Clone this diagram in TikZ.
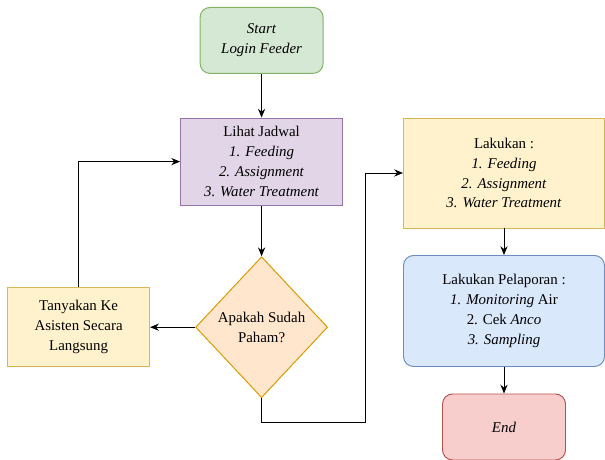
\documentclass[tikz,border=0pt]{standalone}
\usepackage{fontspec}
\setmainfont{Liberation Serif}
\usepackage{tikz}
\usetikzlibrary{positioning,shapes.geometric,arrows.meta}

\definecolor{greenfill}{RGB}{213,232,212}
\definecolor{greenline}{RGB}{130,179,102}
\definecolor{purplefill}{RGB}{225,213,231}
\definecolor{purpleline}{RGB}{150,115,166}
\definecolor{orangefill}{RGB}{255,230,204}
\definecolor{orangeline}{RGB}{215,155,0}
\definecolor{yellowfill}{RGB}{255,242,204}
\definecolor{yellowline}{RGB}{214,182,86}
\definecolor{bluefill}{RGB}{218,232,252}
\definecolor{blueline}{RGB}{108,142,191}
\definecolor{redfill}{RGB}{248,206,204}
\definecolor{redline}{RGB}{184,84,80}

\begin{document}
\begin{tikzpicture}[
  every node/.style={font=\fontsize{10.6}{14.2}\selectfont,align=center,line width=0.7pt,on grid},
  terminal/.style={rectangle,rounded corners=0.25cm,draw=#1line,fill=#1fill,minimum width=3.075cm,minimum height=1.65cm},
  procbox/.style={rectangle,draw=#1line,fill=#1fill},
  decision/.style={diamond,draw=orangeline,fill=orangefill,minimum width=3.3cm,minimum height=3.525cm,inner sep=0pt},
  line/.style={draw,line width=0.7pt,-{Stealth[length=2.2mm,width=1.8mm]}},
]
\useasboundingbox (0,0) rectangle (15.125,-11.5);

\node (start) [terminal=green] at (6.54,-1.01) {\textit{Start}\\ \textit{Login Feeder}};

\node (jadwal) [procbox=purple,below=3.03 of start,minimum width=4.05cm,minimum height=2.175cm] {
Lihat Jadwal\\
\textit{1. Feeding}\\
\textit{2. Assignment}\\
\textit{3. Water Treatment}};

\node (paham) [decision,below=4.14 of jadwal] {Apakah Sudah\\ Paham?};

\node (tanya) [procbox=yellow,left=4.575 of paham,minimum width=3.55cm,minimum height=1.975cm] {
Tanyakan Ke\\ Asisten Secara\\ Langsung};

\node (lakukan) [procbox=yellow,minimum width=5.025cm,minimum height=2.75cm] at (12.6,-4.325) {
Lakukan :\\
\textit{1. Feeding}\\
\textit{2. Assignment}\\
\textit{3. Water Treatment}};

\node (lapor) [terminal=blue,below=3.45 of lakukan,minimum width=5.025cm,minimum height=2.775cm] {
Lakukan Pelaporan :\\
\textit{1. Monitoring} Air\\
2. Cek \textit{Anco}\\
\textit{3. Sampling}};

\node (end) [terminal=red,below=2.9 of lapor] {\textit{End}};

\coordinate (turn) at (9.125,-10.55);

\draw[line] (start) -- (jadwal);
\draw[line] (jadwal) -- (paham);
\draw[line] (paham) -- (tanya);
\draw[line] (tanya.north) |- (jadwal.west);
\draw[line] (paham.south) |- (turn) |- (lakukan.west);
\draw[line] (lakukan) -- (lapor);
\draw[line] (lapor) -- (end);
\end{tikzpicture}
\end{document}
